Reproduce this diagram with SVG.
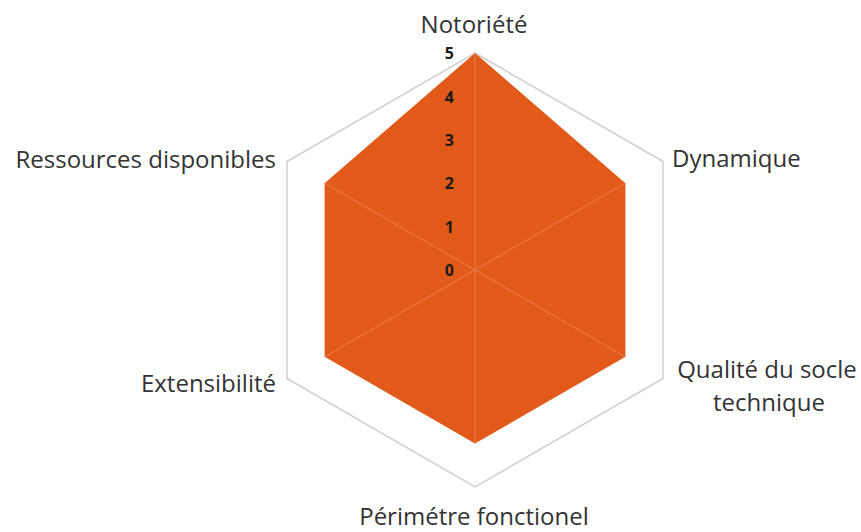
<svg xmlns="http://www.w3.org/2000/svg" width="861" height="532" viewBox="0 0 861 532">
<style>
.grid{fill:none;stroke:#cfcfcf;stroke-width:1.5}
.spoke{stroke:#ec8050;stroke-width:1.5;opacity:0.6}
.tick{font-family:"Open Sans","Liberation Sans",sans-serif;font-weight:bold;font-size:16px;fill:#1a1a1a;text-anchor:end}
.lab{font-family:"Open Sans","Liberation Sans",sans-serif;font-size:24px;fill:#333}
</style>
<rect width="861" height="532" fill="#fff"/>
<g id="grid">
<polygon class="grid" points="475,53 663,161.5 663,378.5 475,487 287,378.5 287,161.5"/>
</g>
<g id="series">
<polygon points="475,53 625.4,183.2 625.4,356.8 475,443.6 324.6,356.8 324.6,183.2" fill="#e15a19"/>
</g>
<g id="connectors">
<line class="spoke" x1="475" y1="270" x2="475" y2="53"/>
<line class="spoke" x1="475" y1="270" x2="625.4" y2="183.2"/>
<line class="spoke" x1="475" y1="270" x2="625.4" y2="356.8"/>
<line class="spoke" x1="475" y1="270" x2="475" y2="443.6"/>
<line class="spoke" x1="475" y1="270" x2="324.6" y2="356.8"/>
<line class="spoke" x1="475" y1="270" x2="324.6" y2="183.2"/>
</g>
<g id="ticks">
<text class="tick" x="454" y="59">5</text>
<text class="tick" x="454" y="102.5">4</text>
<text class="tick" x="454" y="146">3</text>
<text class="tick" x="454" y="189">2</text>
<text class="tick" x="454" y="232.5">1</text>
<text class="tick" x="454" y="276">0</text>
</g>
<g id="n-notoriete"><text class="lab" x="474" y="33" text-anchor="middle">Notoriété</text></g>
<g id="n-dynamique"><text class="lab" x="672" y="167">Dynamique</text></g>
<g id="n-qualite"><text class="lab" x="767" y="378" text-anchor="middle">Qualité du socle</text><text class="lab" x="769" y="411" text-anchor="middle">technique</text></g>
<g id="n-perimetre"><text class="lab" x="474" y="525" text-anchor="middle">Périmétre fonctionel</text></g>
<g id="n-extensibilite"><text class="lab" x="276" y="392" text-anchor="end">Extensibilité</text></g>
<g id="n-ressources"><text class="lab" x="276" y="168" text-anchor="end">Ressources disponibles</text></g>
</svg>
